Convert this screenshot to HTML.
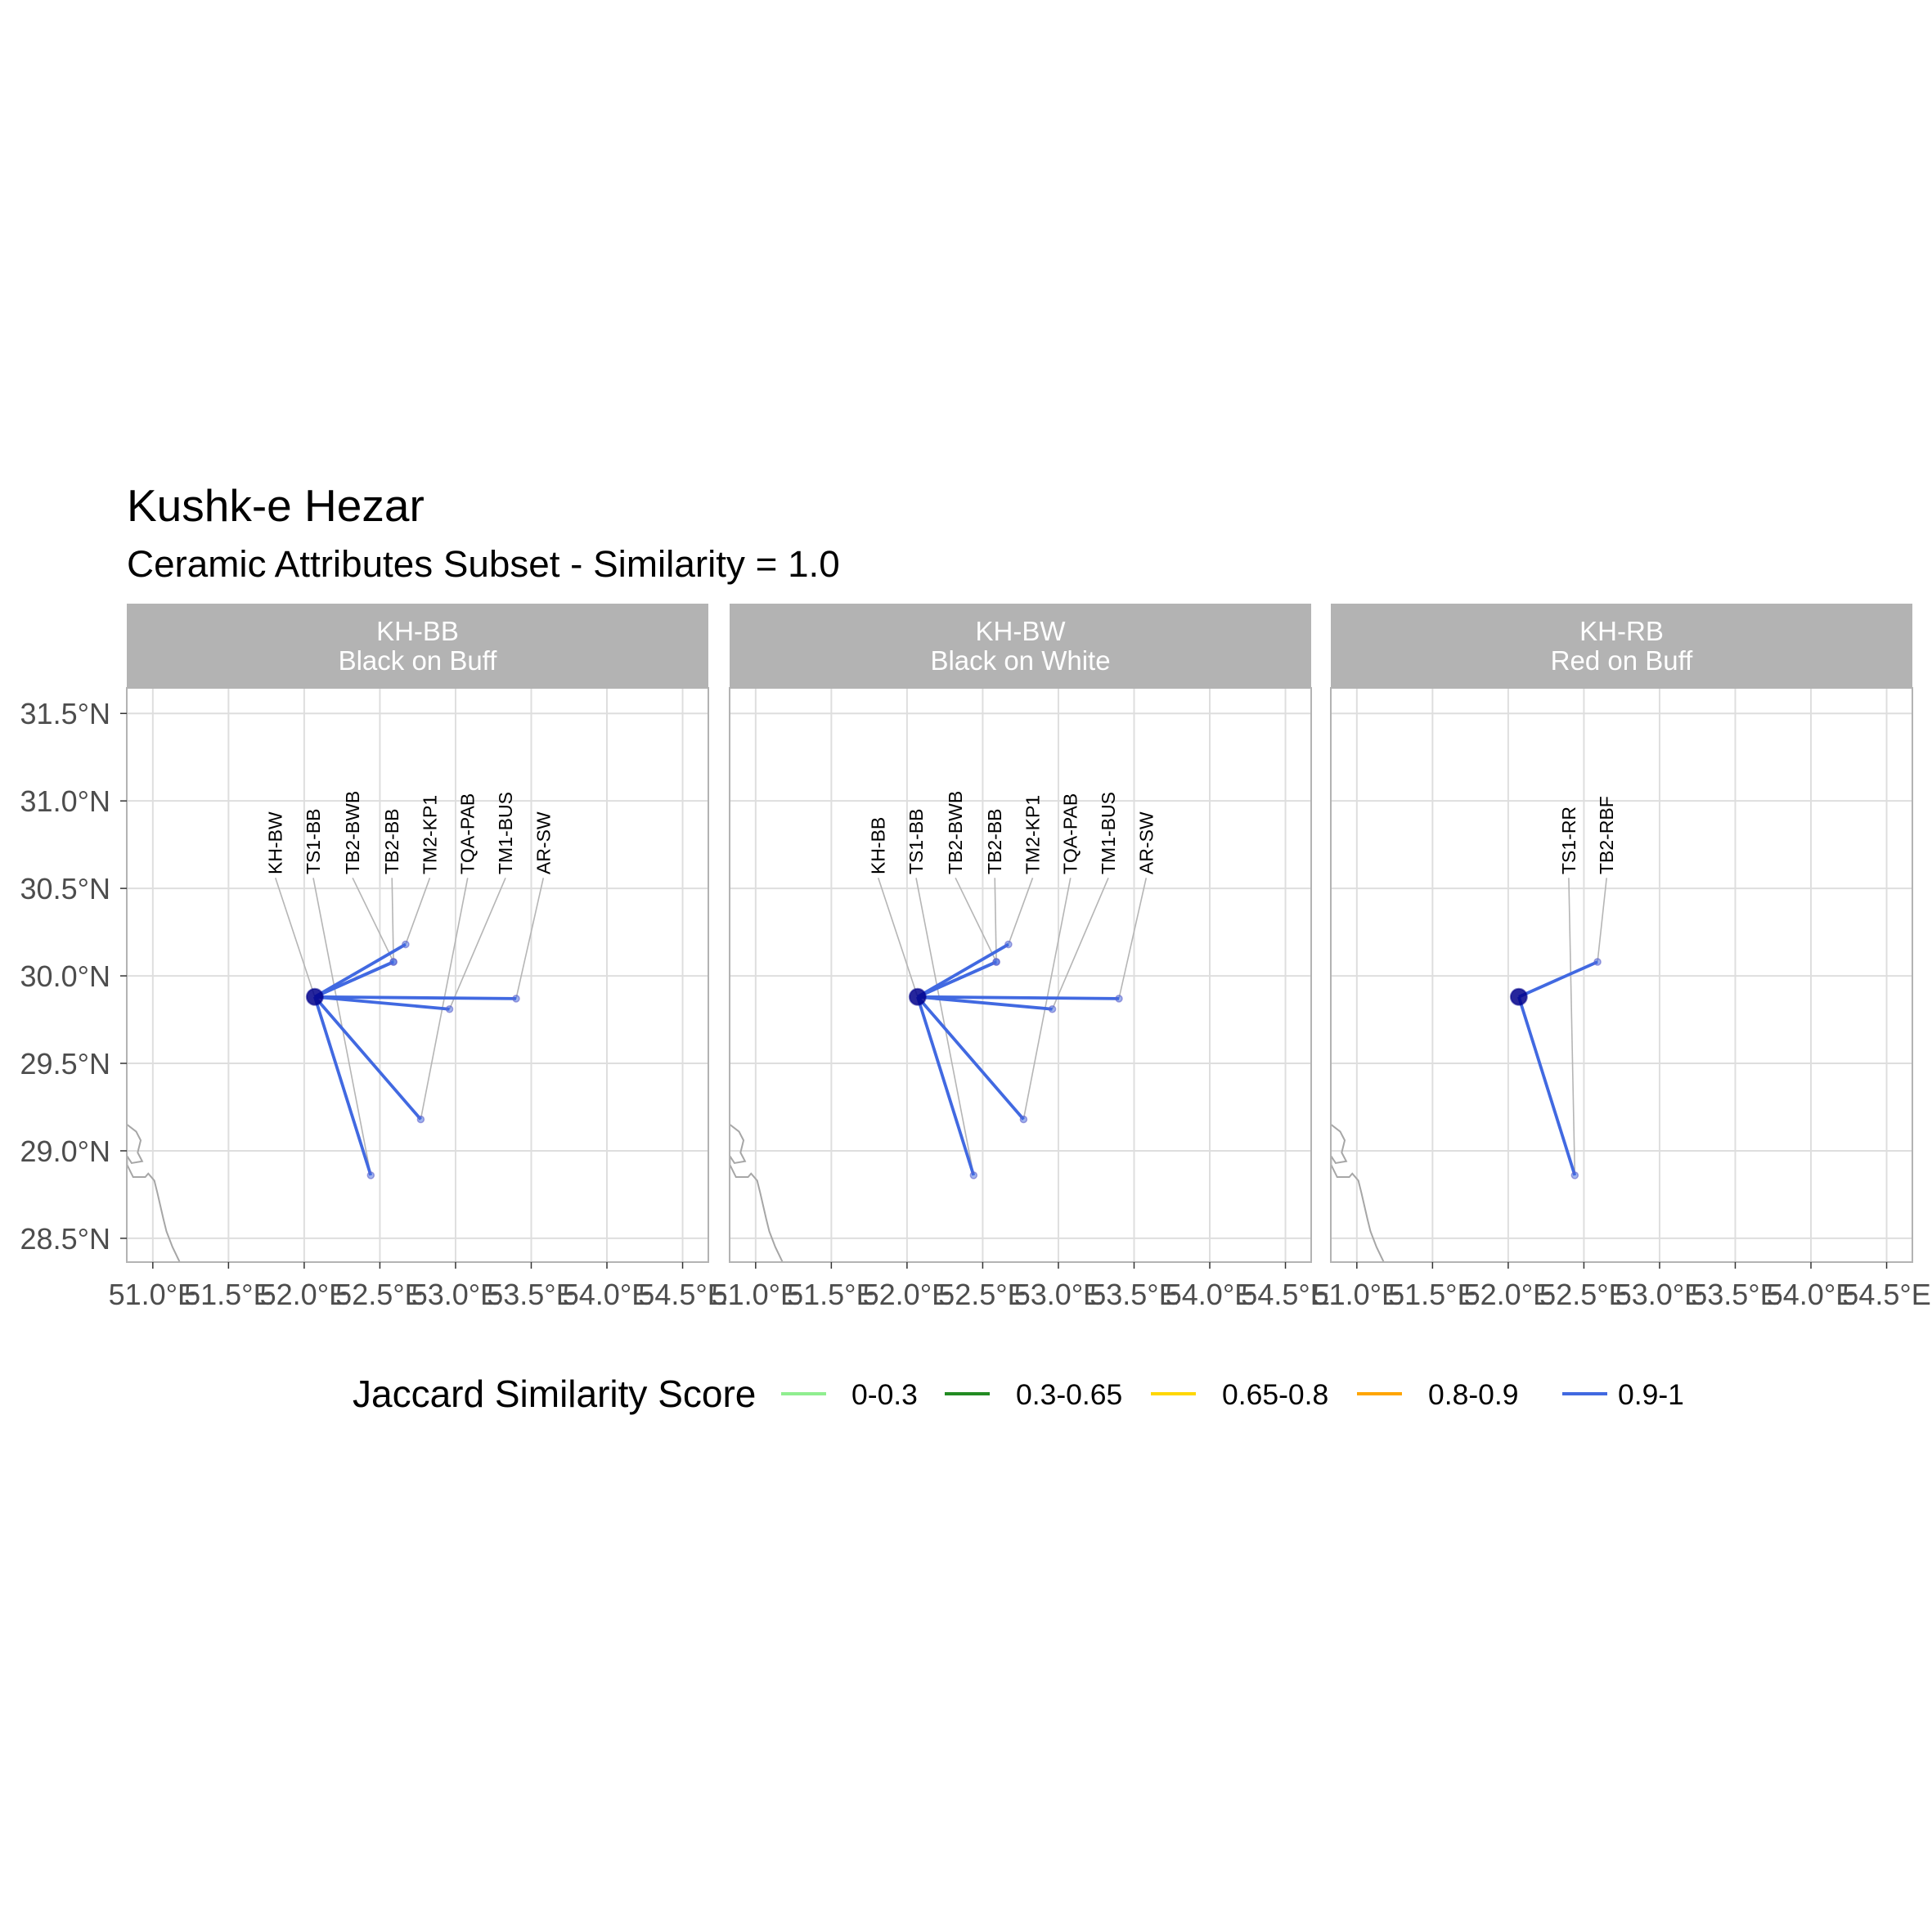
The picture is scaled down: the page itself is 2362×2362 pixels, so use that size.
<!DOCTYPE html>
<html><head><meta charset="utf-8"><style>
html,body{margin:0;padding:0;background:#fff;}
svg{display:block;font-family:"Liberation Sans",Arial,sans-serif;}
</style></head><body>
<svg id="chart" width="2362" height="2362" viewBox="0 0 2362 2362" xmlns="http://www.w3.org/2000/svg">
<text x="155" y="637" font-size="55" fill="#000">Kushk-e Hezar</text>
<text x="155" y="705" font-size="45.8" fill="#000">Ceramic Attributes Subset - Similarity = 1.0</text>
<g id="panels"></g>
<g id="legend">
<text x="431" y="1720" font-size="46" fill="#000">Jaccard Similarity Score</text>
</g>
</svg>
<script>
const facetIds = ["KH-BB","KH-BW","KH-RB"];
const facetNames = ["Black on Buff","Black on White","Red on Buff"];
const centerLon = 52.07, centerLat = 29.88;
const siteNames = [
  ["KH-BW","TS1-BB","TB2-BWB","TB2-BB","TM2-KP1","TQA-PAB","TM1-BUS","AR-SW"],
  ["KH-BB","TS1-BB","TB2-BWB","TB2-BB","TM2-KP1","TQA-PAB","TM1-BUS","AR-SW"],
  ["TS1-RR","TB2-RBF"]
];
const siteLons = [
  [52.07,52.44,52.59,52.59,52.67,52.77,52.96,53.40],
  [52.07,52.44,52.59,52.59,52.67,52.77,52.96,53.40],
  [52.44,52.59]
];
const siteLats = [
  [29.88,28.86,30.08,30.08,30.18,29.18,29.81,29.87],
  [29.88,28.86,30.08,30.08,30.18,29.18,29.81,29.87],
  [28.86,30.08]
];
const labelLons = [
  [51.81,52.06,52.32,52.58,52.83,53.08,53.33,53.58],
  [51.81,52.06,52.32,52.58,52.83,53.08,53.33,53.58],
  [52.40,52.65]
];
const xTicks = [51.0,51.5,52.0,52.5,53.0,53.5,54.0,54.5];
const yTicks = [28.5,29.0,29.5,30.0,30.5,31.0,31.5];
const coastLon = [50.83,50.89,50.92,50.90,50.93,50.86,50.83,50.83,50.87,50.95,50.97,51.01,51.03,51.07,51.09,51.13,51.18];
const coastLat = [29.15,29.11,29.06,28.99,28.94,28.93,28.97,28.92,28.85,28.85,28.87,28.83,28.76,28.61,28.54,28.45,28.36];
const legendLabels = ["0-0.3","0.3-0.65","0.65-0.8","0.8-0.9","0.9-1"];
const legendColors = ["#90EE90","#228B22","#FFD700","#FFA500","#4169E1"];

const NS="http://www.w3.org/2000/svg";
function mk(tag,attrs,parent){const e=document.createElementNS(NS,tag);for(const k in attrs)e.setAttribute(k,attrs[k]);parent.appendChild(e);return e;}
const panelX=[155,892,1627], panelW=711, stripY=738, plotY=841, plotH=702;
const lonMin=50.828, lonMax=54.67, latMax=31.646, latMin=28.364;
const panels=document.getElementById('panels');
facetIds.forEach((fid,p)=>{
  const px=panelX[p];
  const sx=lon=>px+(lon-lonMin)/(lonMax-lonMin)*panelW;
  const sy=lat=>plotY+(latMax-lat)/(latMax-latMin)*plotH;
  const g=mk('g',{},panels);
  
  
  const strip=mk('rect',{x:px,y:stripY,width:panelW,height:plotY-stripY,fill:'#b3b3b3'},g);
  
  
  const t1=mk('text',{x:px+panelW/2,y:783,'font-size':33,fill:'#fff','text-anchor':'middle'},g);t1.textContent=fid;
  
  
  const t2=mk('text',{x:px+panelW/2,y:819,'font-size':33,fill:'#fff','text-anchor':'middle'},g);t2.textContent=facetNames[p];
  
  
  const clip=mk('clipPath',{id:'clip'+p},g);mk('rect',{x:px,y:plotY,width:panelW,height:plotH},clip);
  const inner=mk('g',{'clip-path':'url(#clip'+p+')'},g);
  xTicks.forEach(v=>{const l=mk('line',{x1:sx(v),x2:sx(v),y1:plotY,y2:plotY+plotH,stroke:'#dedede','stroke-width':2},inner);
    
    });
  yTicks.forEach(v=>{const l=mk('line',{x1:px,x2:px+panelW,y1:sy(v),y2:sy(v),stroke:'#dedede','stroke-width':2},inner);
    
    });
  const coast=mk('polyline',{points:coastLon.map((v,i)=>sx(v)+','+sy(coastLat[i])).join(' '),fill:'none',stroke:'#a6a6a6','stroke-width':2},inner);
  
  
  const names=siteNames[p],lons=siteLons[p],lats=siteLats[p],llons=labelLons[p];
  names.forEach((n,i)=>{const l=mk('line',{x1:sx(llons[i]),y1:sy(30.56),x2:sx(lons[i]),y2:sy(lats[i]),stroke:'#b5b5b5','stroke-width':1.6},inner);
    
    });
  names.forEach((n,i)=>{if(lons[i]===centerLon&&lats[i]===centerLat)return;
    const l=mk('line',{x1:sx(centerLon),y1:sy(centerLat),x2:sx(lons[i]),y2:sy(lats[i]),stroke:'#4169E1','stroke-width':3.8},inner);
    
    });
  names.forEach((n,i)=>{if(lons[i]===centerLon&&lats[i]===centerLat)return;
    const c=mk('circle',{cx:sx(lons[i]),cy:sy(lats[i]),r:4,fill:'rgba(65,105,225,0.5)',stroke:'rgba(100,100,200,0.6)','stroke-width':1.5},inner);
    
    });
  const cc=mk('circle',{cx:sx(centerLon),cy:sy(centerLat),r:10,fill:'rgba(0,0,139,0.85)',stroke:'rgba(0,0,139,0.5)','stroke-width':2},inner);
  
  
  names.forEach((n,i)=>{const x=sx(llons[i])+8,y=sy(30.58);
    const t=mk('text',{x:x,y:y,'font-size':23,fill:'#000',transform:'rotate(-90 '+x+' '+y+')'},inner);t.textContent=n;
    
    });
  const b=mk('rect',{x:px,y:plotY,width:panelW,height:plotH,fill:'none',stroke:'#b3b3b3','stroke-width':2},g);
  
  
  xTicks.forEach(v=>{mk('line',{x1:sx(v),x2:sx(v),y1:plotY+plotH,y2:plotY+plotH+8,stroke:'#333','stroke-width':1.5},g);
    const t=mk('text',{x:sx(v),y:1595,'font-size':36,fill:'#4d4d4d','text-anchor':'middle'},g);t.textContent=v.toFixed(1)+'°E';
    
    });
  if(p===0){yTicks.forEach(v=>{mk('line',{x1:px-8,x2:px,y1:sy(v),y2:sy(v),stroke:'#333','stroke-width':1.5},g);
    const t=mk('text',{x:135,y:sy(v)+13,'font-size':36,fill:'#4d4d4d','text-anchor':'end'},g);t.textContent=v.toFixed(1)+'°N';
    
    });}
});
const legend=document.getElementById('legend');
const keyX=[955,1155,1407,1659,1910];
const textX=[1041,1242,1494,1746,1978];
legendLabels.forEach((lab,i)=>{
  const l=mk('line',{x1:keyX[i],x2:keyX[i]+55,y1:1704,y2:1704,stroke:legendColors[i],'stroke-width':4},legend);
  
  
  const t=mk('text',{x:textX[i],y:1717,'font-size':35.5,fill:'#000'},legend);t.textContent=lab;
  
  
});
</script>
</body></html>
